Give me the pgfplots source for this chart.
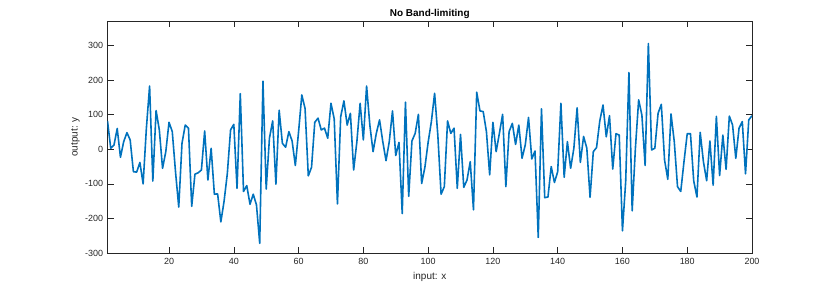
\documentclass[border=0pt]{standalone}
\usepackage{fontspec}
\setmainfont{Liberation Sans}
\usepackage{pgfplots}
\pgfplotsset{compat=1.18}
\definecolor{mlblue}{rgb}{0,0.447,0.741}
\definecolor{axgray}{rgb}{0.15,0.15,0.15}
\begin{document}
\begin{tikzpicture}
\begin{axis}[
  at={(0,0)}, anchor=south west,
  scale only axis, width=644.5bp, height=232bp,
  xmin=1, xmax=200, ymin=-300, ymax=371,
  xtick={20,40,...,200}, ytick={-300,-200,...,300},
  tick align=inside, major tick length=6bp,
  axis line style={axgray, line width=0.5pt},
  tick style={axgray, line width=0.5pt},
  ticklabel style={font=\fontsize{9}{10}\selectfont, text=axgray},
  xticklabel style={anchor=base, yshift=-11.5bp},
  yticklabel style={xshift=-0.8bp},
  /pgf/number format/assume math mode=true,
  every axis title shift=0pt,
  title={\textbf{No Band-limiting}},
  title style={font=\fontsize{10}{12}\selectfont, at={(axis description cs:0.5,1.01853)}, anchor=base},
  xlabel={input: x}, ylabel={output: y},
  label style={font=\fontsize{10}{12}\selectfont, text=axgray},
  xlabel style={at={(axis description cs:0.5,-0.1121)}, anchor=base},
  ylabel style={at={(axis description cs:-0.0465,0.5)}, anchor=base},
  clip=true,
]
\addplot[mlblue, line width=1.6pt, line join=round] coordinates {
(1,82) (2,3) (3,12) (4,60) (5,-23) (6,22) (7,48) (8,27) (9,-65) (10,-66)
(11,-38) (12,-100) (13,60) (14,183) (15,-92) (16,112) (17,56) (18,-55) (19,-7) (20,78)
(21,51) (22,-65) (23,-167) (24,17) (25,70) (26,61) (27,-165) (28,-72) (29,-68) (30,-60)
(31,53) (32,-89) (33,3) (34,-130) (35,-129) (36,-210) (37,-150) (38,-70) (39,56) (40,72)
(41,-113) (42,161) (43,-122) (44,-105) (45,-159) (46,-130) (47,-161) (48,-272) (49,197) (50,-115)
(51,32) (52,82) (53,-101) (54,113) (55,17) (56,6) (57,51) (58,24) (59,-47) (60,51)
(61,157) (62,118) (63,-77) (64,-52) (65,78) (66,90) (67,56) (68,61) (69,32) (70,133)
(71,88) (72,-158) (73,94) (74,140) (75,70) (76,104) (77,-60) (78,22) (79,133) (80,27)
(81,183) (82,70) (83,-7) (84,46) (85,85) (86,22) (87,-33) (88,22) (89,111) (90,-18)
(91,20) (92,-186) (93,136) (94,-136) (95,24) (96,46) (97,101) (98,-99) (99,-52) (100,20)
(101,80) (102,162) (103,40) (104,-130) (105,-108) (106,82) (107,46) (108,61) (109,-113) (110,43)
(111,-110) (112,-89) (113,-36) (114,-175) (115,165) (116,111) (117,109) (118,51) (119,-74) (120,78)
(121,-7) (122,46) (123,101) (124,-108) (125,51) (126,75) (127,14) (128,70) (129,-26) (130,13)
(131,92) (132,-28) (133,-5) (134,-255) (135,117) (136,-140) (137,-138) (138,-50) (139,-96) (140,-65)
(141,133) (142,-81) (143,22) (144,-55) (145,3) (146,120) (147,-38) (148,37) (149,3) (150,-139)
(151,-7) (152,5) (153,82) (154,128) (155,36) (156,97) (157,-57) (158,45) (159,41) (160,-236)
(161,-93) (162,222) (163,-178) (164,3) (165,143) (166,99) (167,-47) (168,306) (169,-2) (170,3)
(171,104) (172,130) (173,-31) (174,-87) (175,102) (176,22) (177,-108) (178,-122) (179,-36) (180,45)
(181,45) (182,-91) (183,-138) (184,49) (185,-36) (186,-91) (187,24) (188,-104) (189,95) (190,-76)
(191,41) (192,-58) (193,96) (194,70) (195,-26) (196,61) (197,80) (198,-71) (199,85) (200,97)
};
\end{axis}
\path[use as bounding box] (-107.5bp,-32bp) rectangle (722.5bp,253bp);
\end{tikzpicture}
\end{document}
